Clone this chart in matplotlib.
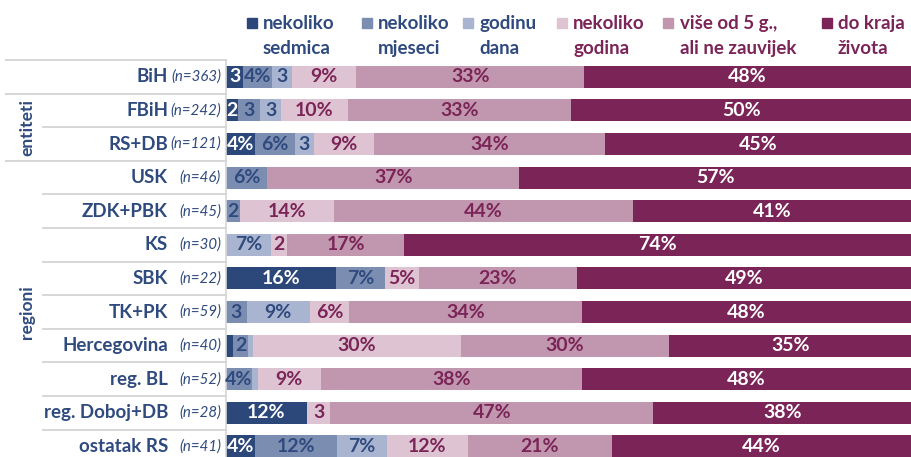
import matplotlib
matplotlib.use("Agg")
import matplotlib.pyplot as plt
from matplotlib.patches import Rectangle

plt.rcParams['font.family'] = ['Lato', 'DejaVu Sans']

categories = ["BiH", "FBiH", "RS+DB", "USK", "ZDK+PBK", "KS", "SBK", "TK+PK",
              "Hercegovina", "reg. BL", "reg. Doboj+DB", "ostatak RS"]
n_labels = ["(n=363)", "(n=242)", "(n=121)", "(n=46)", "(n=45)", "(n=30)", "(n=22)",
            "(n=59)", "(n=40)", "(n=52)", "(n=28)", "(n=41)"]

series_names = ["nekoliko\nsedmica", "nekoliko\nmjeseci", "godinu\ndana",
                "nekoliko\ngodina", "više od 5 g.,\nali ne zauvijek", "do kraja\nživota"]

sedmica = [2.5, 1.8, 4.2, 0, 0, 0, 16.0, 0, 1.0, 0, 11.8, 4.2]
mjeseci = [4.2, 3.2, 5.8, 6.0, 2.0, 0, 7.2, 3.0, 2.2, 3.8, 0, 12.0]
godinu = [2.9, 3.0, 2.8, 0, 0, 6.6, 0, 9.2, 0.7, 0.8, 0, 7.3]
godina = [9.4, 9.8, 8.8, 0, 13.8, 2.3, 5.0, 5.8, 30.4, 9.3, 3.4, 11.8]
vise5 = [33.3, 32.6, 33.8, 36.8, 43.6, 17.1, 23.0, 34.0, 30.4, 38.1, 47.2, 21.0]
kraj = [47.7, 49.6, 44.6, 57.2, 40.6, 74.0, 48.8, 48.0, 35.3, 48.0, 37.6, 43.7]

series = [sedmica, mjeseci, godinu, godina, vise5, kraj]

colors = ["#2C4779", "#7B8DB1", "#A9B5D0", "#DEC3D2", "#C196AF", "#7B2457"]
navy = "#2F4A7E"
magenta = "#7B2457"
label_colors = ["white", navy, navy, magenta, magenta, "white"]
legend_text_colors = [navy, navy, navy, magenta, magenta, magenta]
grid_gray = "#D6D6D6"

W, H = 911, 457
fig = plt.figure(figsize=(W / 100, H / 100), dpi=100)
top_px, pitch = 60, 33.6
bottom_px = top_px + pitch * len(categories)
ax = fig.add_axes([226 / W, 1 - bottom_px / H, 685 / W, (bottom_px - top_px) / H])

ypos = list(range(len(categories)))
left = [0.0] * len(categories)
for k, vals in enumerate(series):
    ax.barh(ypos, vals, left=left, height=0.65, color=colors[k], edgecolor='none')
    for i, v in enumerate(vals):
        if v >= 1.5:
            r = int(v + 0.5)
            txt = f"{r}" if r < 4 else f"{r}%"
            ax.text(left[i] + v / 2, i, txt, ha='center', va='center',
                    fontsize=14, fontweight='bold', color=label_colors[k])
    left = [a + b for a, b in zip(left, vals)]

ax.set_xlim(0, 100)
ax.set_ylim(len(categories) - 0.5, -0.5)
ax.axis('off')

def xf(px):
    return (px - 226) / 685

tr = ax.get_yaxis_transform()
# row separators
full_rows = {-0.5, 0.5, 2.5, 11.5}
for j in range(len(categories) + 1):
    y = j - 0.5
    x0 = xf(6) if y in full_rows else xf(43)
    ax.plot([x0, 0], [y, y], transform=tr, color=grid_gray, lw=1.4, clip_on=False)
ax.plot([0, 0], [-0.5, len(categories) - 0.5], transform=tr, color=grid_gray,
        lw=1.2, clip_on=False)

for i, (c, n) in enumerate(zip(categories, n_labels)):
    ax.text(xf(168), i, c, transform=tr, ha='right', va='center',
            fontsize=13.5, fontweight='bold', color=navy)
    ax.text(xf(221), i, n, transform=tr, ha='right', va='center',
            fontsize=10.8, style='italic', color=navy)

ax.text(xf(27), 1.5, "entiteti", transform=tr, rotation=90, ha='center', va='center',
        fontsize=12.5, fontweight='bold', color=navy)
ax.text(xf(27), 7.0, "regioni", transform=tr, rotation=90, ha='center', va='center',
        fontsize=12.5, fontweight='bold', color=navy)

# legend
marker_px = [247, 362, 463, 557, 663, 822]
text_px = [263, 378, 479, 573, 680, 838]
for k, name in enumerate(series_names):
    fig.add_artist(Rectangle((marker_px[k] / W, 1 - 28 / H), 10 / W, 10 / H,
                             transform=fig.transFigure, color=colors[k]))
    l1, l2 = name.split("\n")
    fig.text(text_px[k] / W, 1 - 29 / H, l1, ha='left', va='baseline',
             fontsize=13.5, fontweight='bold', color=legend_text_colors[k])
    fig.text(text_px[k] / W, 1 - 54 / H, l2, ha='left', va='baseline',
             fontsize=13.5, fontweight='bold', color=legend_text_colors[k])

fig.savefig("out.png", dpi=100)
